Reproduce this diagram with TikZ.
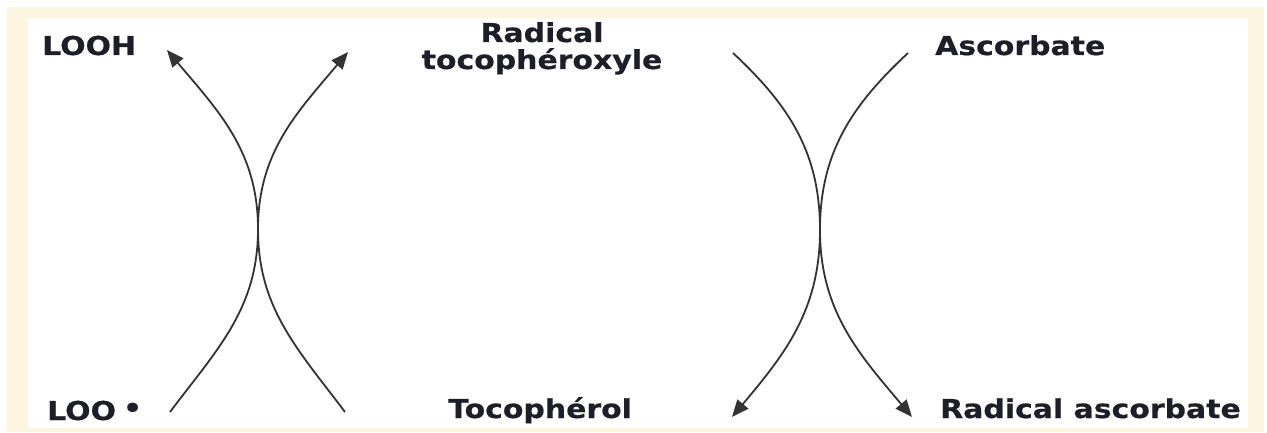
\documentclass[tikz,border=0pt]{standalone}
\usepackage{fontspec}
\usetikzlibrary{arrows.meta}
\newfontfamily\labfont{DejaVu Sans Bold}[FakeStretch=1.15,FakeBold=0.6]
\definecolor{beige}{HTML}{FCF5E0}
\definecolor{ink}{HTML}{1E1E28}
\definecolor{linec}{HTML}{333333}
\tikzset{
  lab/.style={inner sep=0pt, anchor=base west, text=ink, font=\labfont\fontsize{26}{27}\selectfont},
  arc/.style={draw=linec, line width=1.8pt, -{Triangle[length=17pt,width=14pt]}},
}
\begin{document}
\begin{tikzpicture}[x=1pt,y=1pt]
\useasboundingbox (0,0) rectangle (1267,432);
\fill[beige] (7,0) rectangle (1264,425);
\fill[white] (28,4) rectangle (1248,414);
% labels
\node[lab] (looh) at (42,377) {LOOH};
\node[lab] (loo) at (47,12) {LOO\hspace{7pt}\raisebox{3pt}{•}};
\node[lab, anchor=base] (rad1) at (542,390) {Radical};
\node[lab, anchor=base] (rad2) at (542,363) {tocophéroxyle};
\node[lab] (asc) at (935,377) {Ascorbate};
\node[lab] (toc) at (448,14) {Tocophérol};
\node[lab] (rasc) at (940,14) {Radical ascorbate};
% connector coordinates
\coordinate (a1) at (170,20);
\coordinate (b1) at (345,20);
\coordinate (m1) at (258,203);
\coordinate (t1) at (167,382);
\coordinate (t2) at (348,380);
\coordinate (c1) at (733,379);
\coordinate (d1) at (908,379);
\coordinate (m2) at (820,202);
\coordinate (e1) at (732,15);
\coordinate (e2) at (912,15);
% left pair
\draw[arc] (a1) to[out=53,in=-90] (m1) to[out=90,in=-50] (t1);
\draw[arc] (b1) to[out=127,in=-90] (m1) to[out=90,in=-130] (t2);
% right pair
\draw[arc] (c1) to[out=-43,in=90] (m2) to[out=-90,in=50] (e1);
\draw[arc] (d1) to[out=-137,in=90] (m2) to[out=-90,in=130] (e2);
\end{tikzpicture}
\end{document}
